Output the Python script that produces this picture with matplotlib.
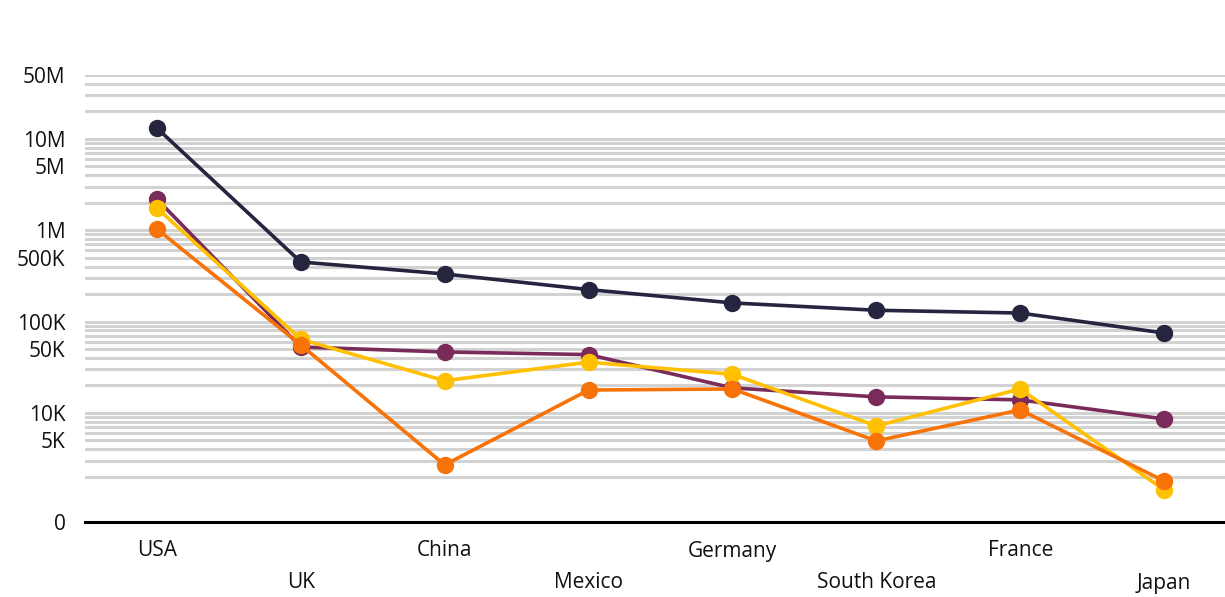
import numpy as np
import matplotlib
matplotlib.use("Agg")
import matplotlib.pyplot as plt

plt.rcParams['font.family'] = ['Open Sans', 'DejaVu Sans']

countries = ["USA", "UK", "China", "Mexico", "Germany", "South Korea", "France", "Japan"]

# values
navy = [13.1e6, 449e3, 332e3, 224e3, 160e3, 133e3, 124e3, 75e3]
purple = [2.19e6, 52.7e3, 46.5e3, 43.5e3, 18.8e3, 15.0e3, 13.9e3, 8.6e3]
yellow = [1.75e6, 64e3, 22.5e3, 36e3, 26.5e3, 7.2e3, 18.3e3, 1.44e3]
orange = [1.03e6, 55.5e3, 2.7e3, 17.8e3, 18.3e3, 4.94e3, 10.8e3, 1.8e3]

series = [
    (navy, "#252540"),
    (purple, "#7a2b5a"),
    (yellow, "#ffc000"),
    (orange, "#f77307"),
]

tick_vals = [5e7, 1e7, 5e6, 1e6, 5e5, 1e5, 5e4, 1e4, 5e3]
tick_labels = ["50M", "10M", "5M", "1M", "500K", "100K", "50K", "10K", "5K"]
y_bottom = 640
y_top = 5e7

fig = plt.figure(figsize=(12.25, 5.97), dpi=100)
ax = fig.add_axes([85 / 1225, 1 - 522 / 597, 1151 / 1225, (522 - 75) / 597])
ax.set_yscale("log")

# gridlines at 2..10 x 10^k from 2K up to 50M
grid_vals = [m * 10 ** k for k in range(3, 8) for m in range(2, 11) if 2e3 <= m * 10 ** k <= 5e7]
for g in grid_vals:
    ax.axhline(g, color="#d2d2d2", lw=2.2, zorder=0)

x = np.arange(len(countries))
for vals, col in series:
    ax.plot(x, vals, color=col, lw=2.6, marker="o", markersize=11.5, zorder=3)

ax.set_xlim(-0.5, len(countries) - 0.5)
ax.set_ylim(y_bottom, y_top)

ax.set_yticks(tick_vals + [y_bottom])
ax.set_yticklabels(tick_labels + ["0"])
ax.yaxis.set_minor_locator(matplotlib.ticker.NullLocator())
ax.tick_params(axis="y", length=0, pad=14, labelsize=15, labelcolor="#111111")

ax.set_xticks(x)
ax.set_xticklabels([])
ax.tick_params(axis="x", length=0)
for i, name in enumerate(countries):
    yoff = -29 if i % 2 == 0 else -61
    ax.annotate(name, (i, 0), xycoords=("data", "axes fraction"), xytext=(0, yoff),
                textcoords="offset pixels", ha="center", va="center", fontsize=15, color="#111111")

for s in ["top", "right", "left"]:
    ax.spines[s].set_visible(False)
ax.spines["bottom"].set_color("black")
ax.spines["bottom"].set_linewidth(2.2)

fig.savefig("out.png", dpi=100)
